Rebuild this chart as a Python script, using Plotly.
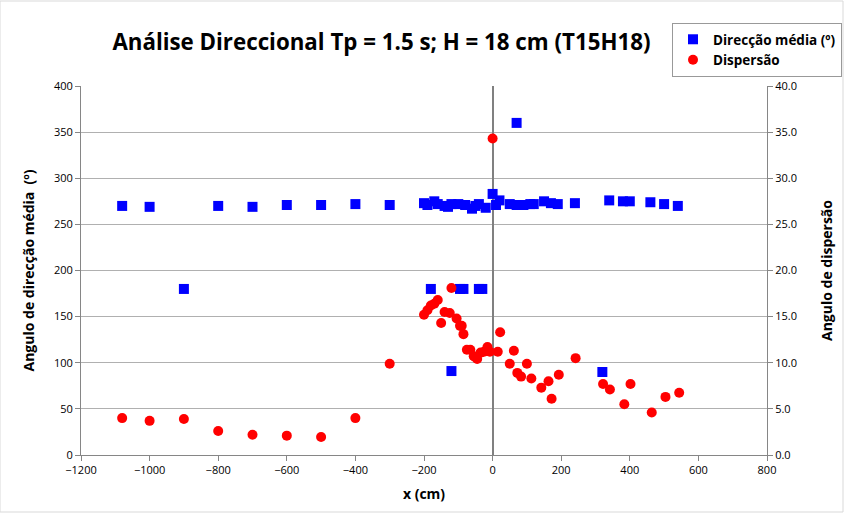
import plotly.graph_objects as go

# Direcção média (left axis, degrees)
dir_x = [-1080, -1000, -900, -800, -700, -600, -500, -400, -300,
         -200, -190, -180, -170, -160, -140, -130, -120, -120, -100, -95, -85, -80,
         -60, -50, -40, -40, -30, -20, 0, 10, 20, 50, 70, 70, 90, 110, 120,
         150, 170, 190, 240, 320, 340, 380, 400, 460, 500, 540]
dir_y = [270, 269, 180, 270, 269, 271, 271, 272, 271,
         273, 271, 180, 275, 272, 270, 269, 272, 91, 272, 180, 180, 271,
         267, 270, 272, 180, 180, 268, 283, 271, 276, 272, 271, 360, 271, 272, 272,
         275, 273, 272, 273, 90, 276, 275, 275, 274, 272, 270]

# Dispersão (right axis)
disp_x = [-1080, -1000, -900, -800, -700, -600, -500, -400, -300,
          -200, -190, -180, -170, -160, -150, -140, -125, -120, -105, -95, -90, -85,
          -75, -65, -55, -50, -45, -35, -25, -15, -8, 0, 15, 22, 50, 62, 72, 83,
          100, 113, 142, 163, 172, 193, 242, 322, 342, 384, 402, 464, 504, 544]
disp_y = [4.0, 3.7, 3.9, 2.6, 2.2, 2.1, 1.95, 4.0, 9.9,
          15.2, 15.7, 16.2, 16.4, 16.8, 14.3, 15.5, 15.4, 18.1, 14.8, 14.0, 14.0, 13.1,
          11.4, 11.4, 10.7, 10.6, 10.4, 11.1, 11.2, 11.7, 11.2, 34.3, 11.2, 13.3, 9.9, 11.3, 8.9, 8.5,
          9.9, 8.3, 7.3, 8.0, 6.1, 8.7, 10.5, 7.7, 7.1, 5.5, 7.7, 4.6, 6.3, 6.75]

title_text = "Análise Direccional Tp = 1.5 s; H = 18 cm (T15H18)"
FONT = "Open Sans"

fig = go.Figure()
fig.add_trace(go.Scatter(x=dir_x, y=dir_y, mode="markers", name="<b>Direcção média (º)</b>",
                         marker=dict(symbol="square", size=10, color="#0000ff"), yaxis="y"))
fig.add_trace(go.Scatter(x=disp_x, y=disp_y, mode="markers", name="<b>Dispersão</b>",
                         marker=dict(symbol="circle", size=10, color="#ff0000"), yaxis="y2"))

grid = "#b0b0b0"
axc = "#868686"
fig.update_layout(
    width=844, height=513,
    margin=dict(l=81, r=77, t=86, b=58, autoexpand=False),
    paper_bgcolor="white", plot_bgcolor="white",
    font=dict(family=FONT, color="#000000", size=11),
    title=dict(text="<b>" + title_text + "</b>", x=0.452, xanchor="center", y=0.918, yanchor="middle",
               font=dict(size=22.3, family=FONT)),
    showlegend=True,
    legend=dict(x=(672 - 81) / 686, y=(455 - 23) / 369, xanchor="left", yanchor="top", bgcolor="white",
                bordercolor="#999999", borderwidth=1, font=dict(size=13.5, family=FONT),
                tracegroupgap=0, itemwidth=30),
    xaxis=dict(range=[-1200, 800], dtick=200, showgrid=False, zeroline=True,
               zerolinecolor="#808080", zerolinewidth=2,
               showline=True, linecolor=axc, linewidth=1, ticks="outside", ticklen=5,
               tickcolor=axc, tickfont=dict(size=11),
               title=dict(text="<b>x (cm)</b>", font=dict(size=14), standoff=12)),
    yaxis=dict(range=[0, 400], dtick=50, showgrid=True, gridcolor=grid, gridwidth=1,
               zeroline=False, showline=True, linecolor=axc, linewidth=1, ticks="outside",
               ticklen=5, tickcolor=axc, tickfont=dict(size=11),
               title=dict(text="<b>Angulo de direcção média  (º)</b>", font=dict(size=14), standoff=16)),
    yaxis2=dict(range=[0, 40], dtick=5, tickformat=".1f", overlaying="y", side="right",
                showgrid=False, zeroline=False, showline=True, linecolor=axc, linewidth=1,
                ticks="outside", ticklen=5, tickcolor=axc, tickfont=dict(size=11),
                title=dict(text="<b>Angulo de dispersão</b>", font=dict(size=14), standoff=26)),
)
fig.add_shape(type="rect", xref="paper", yref="paper", x0=-81/686, x1=1 + 76/686, y0=-57/369, y1=1 + 85/369,
              line=dict(color="#d9d9d9", width=1))
fig.write_html("out.html")
